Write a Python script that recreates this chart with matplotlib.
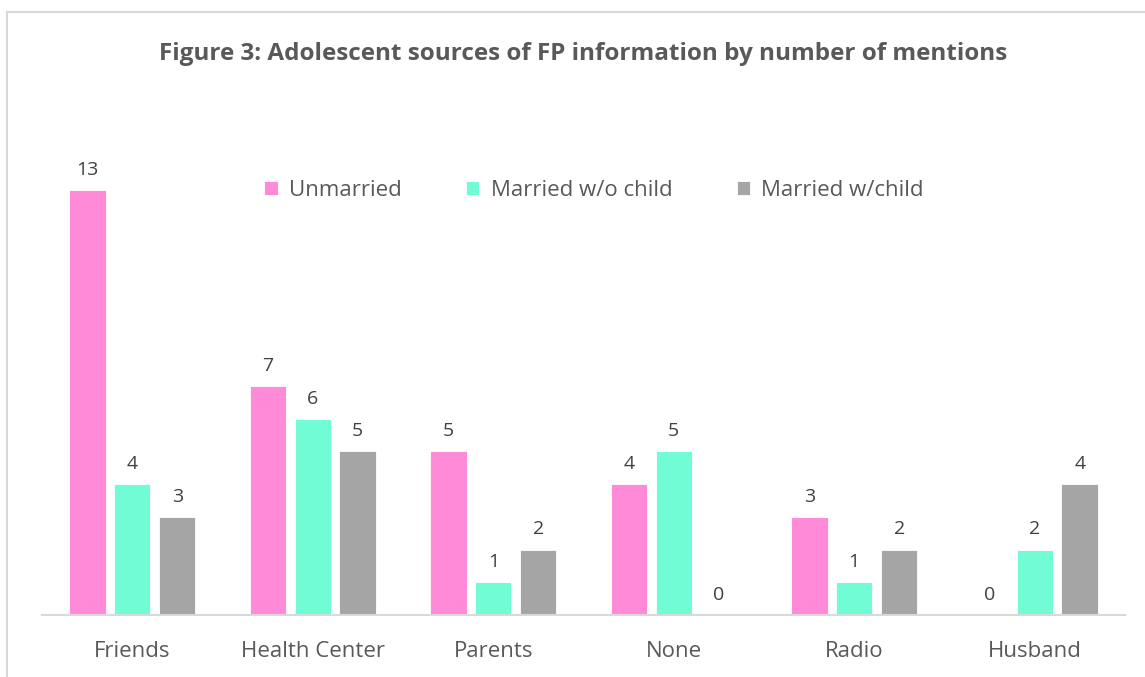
import matplotlib
matplotlib.use("Agg")
import matplotlib.pyplot as plt
import numpy as np
from matplotlib.lines import Line2D

categories = ["Friends", "Health Center", "Parents", "None", "Radio", "Husband"]
unmarried = [13, 7, 5, 4, 3, 0]
married_no_child = [4, 6, 1, 5, 1, 2]
married_child = [3, 5, 2, 0, 2, 4]
series_names = ["Unmarried", "Married w/o child", "Married w/child"]
colors = ["#FF8AD8", "#72FCD6", "#A5A5A5"]
title = "Figure 3: Adolescent sources of FP information by number of mentions"

plt.rcParams['font.family'] = ['Open Sans', 'DejaVu Sans']
W, H = 1145, 677
fig = plt.figure(figsize=(W / 100, H / 100), dpi=100)

# outer chart frame (left and top visible)
fig.add_artist(Line2D([7 / W, 7 / W], [0, 1 - 12 / H], transform=fig.transFigure, color="#D9D9D9", lw=1.5))
fig.add_artist(Line2D([7 / W, 1], [1 - 12 / H, 1 - 12 / H], transform=fig.transFigure, color="#D9D9D9", lw=1.5))

left, right = 42 / W, 1125 / W
bottom = 1 - 615 / H
top = 1 - 157 / H
ax = fig.add_axes([left, bottom, right - left, top - bottom])

x = np.arange(len(categories))
w = 0.202
offs = 0.249
data = [unmarried, married_no_child, married_child]
for i, (vals, c, name) in enumerate(zip(data, colors, series_names)):
    bars = ax.bar(x + (i - 1) * offs, vals, width=w, color=c, edgecolor="white", linewidth=0.6, label=name)
    for b, v in zip(bars, vals):
        ax.annotate(str(v), (b.get_x() + b.get_width() / 2, v), xytext=(0, 8), textcoords="offset points",
                    ha="center", va="bottom", fontsize=14, color="#404040")

ax.set_xlim(-0.5, len(categories) - 0.5)
ax.set_ylim(0, 14)
ax.set_yticks([])
ax.set_xticks(x)
ax.set_xticklabels(categories, fontsize=16, color="#595959")
ax.tick_params(axis="x", length=0, pad=19)
for s in ["left", "right", "top"]:
    ax.spines[s].set_visible(False)
ax.spines["bottom"].set_color("#D9D9D9")
ax.spines["bottom"].set_linewidth(1.5)

fig.text(583 / W, 1 - 54 / H, title, ha="center", va="center", fontsize=17.5, fontweight="bold", color="#595959")

leg = fig.legend(loc="center", bbox_to_anchor=(594 / W, 1 - 190 / H), ncol=3, frameon=False,
                 fontsize=16, handlelength=0.6, handleheight=0.6, handletextpad=0.5, columnspacing=2.9)
for t in leg.get_texts():
    t.set_color("#595959")

fig.savefig("out.png", dpi=100)
